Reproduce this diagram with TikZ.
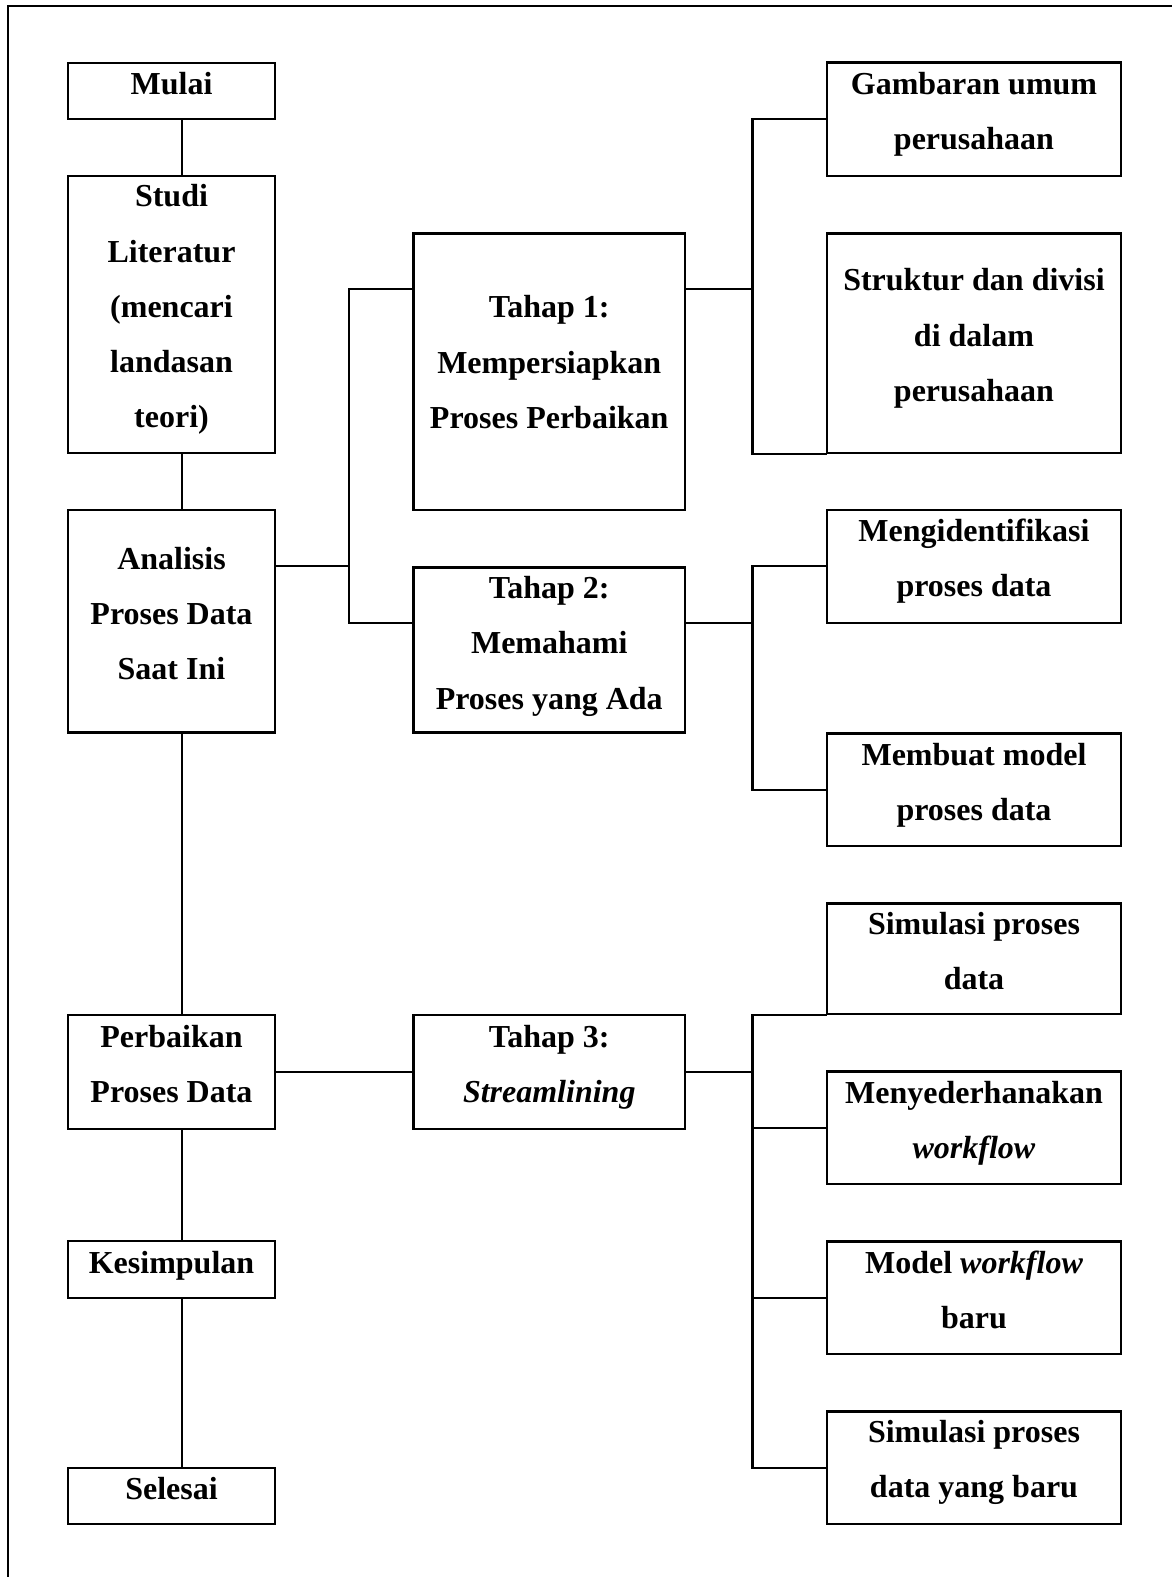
\documentclass[tikz,border=0pt]{standalone}
\usepackage{fontspec}
\setmainfont{Liberation Serif}
\usetikzlibrary{fit}
\newcommand\mkbox[7]{%
  \coordinate (#1-nw) at (#2,#3);
  \coordinate (#1-se) at (#4,#5);
  \node[boxst, fit=(#1-nw)(#1-se)] (#1) {};
  \node[txt] (#1-t) at ({(#2+#4)/2},#6) {\begin{tabular}[t]{@{}c@{}}#7\end{tabular}};
}
\begin{document}
\begin{tikzpicture}[x=1pt,y=-1pt,
  boxst/.style={draw, line width=2.2pt, inner sep=0pt},
  txt/.style={inner sep=0pt, anchor=base, font=\fontsize{32}{55.3}\selectfont\bfseries},
  conn/.style={line width=2.2pt, line cap=rect}]
\useasboundingbox (0,0) rectangle (1172,1577);
% outer frame
\coordinate (fa) at (8,1577);
\coordinate (fb) at (8,5.7);
\coordinate (fc) at (1172,5.7);
\draw[conn] (fa) -- (fb) -- (fc);
% left column
\mkbox{mulai}{68}{62.7}{275}{118.7}{94.5}{Mulai}
\mkbox{studi}{68}{175.7}{275}{453.3}{206.7}{Studi\\Literatur\\(mencari\\landasan\\teori)}
\mkbox{analisis}{68}{510}{275}{732.5}{569.3}{Analisis\\Proses Data\\Saat Ini}
\mkbox{perbaikan}{68}{1015}{275}{1129}{1047.2}{Perbaikan\\Proses Data}
\mkbox{kesimpulan}{68}{1241}{275}{1298}{1273.5}{Kesimpulan}
\mkbox{selesai}{68}{1468}{275}{1524}{1499.9}{Selesai}
% middle column
\mkbox{tahap1}{413.5}{233.4}{685}{510}{317.8}{Tahap 1:\\Mempersiapkan\\Proses Perbaikan}
\mkbox{tahap2}{413.5}{567.4}{685}{732.4}{598.5}{Tahap 2:\\Memahami\\Proses yang Ada}
\mkbox{tahap3}{413.5}{1015}{685}{1129}{1047.2}{Tahap 3:\\\textit{Streamlining}}
% right column
\mkbox{gambaran}{827}{62.4}{1121}{176}{94.5}{Gambaran umum\\perusahaan}
\mkbox{struktur}{827}{233.4}{1121}{452.7}{290.7}{Struktur dan divisi\\di dalam\\perusahaan}
\mkbox{mengid}{827}{510}{1121}{622.7}{541.2}{Mengidentifikasi\\proses data}
\mkbox{membuat}{827}{733.4}{1121}{846}{765.5}{Membuat model\\proses data}
\mkbox{simul1}{827}{903.4}{1121}{1014}{934.5}{Simulasi proses\\data}
\mkbox{menyed}{827}{1071.4}{1121}{1184}{1103.5}{Menyederhanakan\\\textit{workflow}}
\mkbox{modelwf}{827}{1241.4}{1121}{1354}{1273.5}{Model \textit{workflow}\\baru}
\mkbox{simul2}{827}{1411.4}{1121}{1524}{1442.5}{Simulasi proses\\data yang baru}
% junction columns and levels
\coordinate (lx) at (182,0);
\coordinate (jA) at (349,0);
\coordinate (jB) at (752.5,0);
\coordinate (Y1) at (0,288.7);
\coordinate (Y2) at (0,622.7);
% left spine
\draw[conn] (mulai.south -| lx) -- (studi.north -| lx);
\draw[conn] (studi.south -| lx) -- (analisis.north -| lx);
\draw[conn] (analisis.south -| lx) -- (perbaikan.north -| lx);
\draw[conn] (perbaikan.south -| lx) -- (kesimpulan.north -| lx);
\draw[conn] (kesimpulan.south -| lx) -- (selesai.north -| lx);
% analisis to tahap 1 and 2
\draw[conn] (analisis.east |- tahap2.north) -- (jA |- tahap2.north);
\draw[conn] (tahap1.west |- Y1) -- (jA |- Y1) -- (jA |- Y2) -- (tahap2.west |- Y2);
% tahap 1 branches
\draw[conn] (tahap1.east |- Y1) -- (jB |- Y1);
\draw[conn] (gambaran.west) -- (jB |- gambaran.west) -- (jB |- struktur.south) -- (struktur.south west);
% tahap 2 branches
\draw[conn] (tahap2.east |- Y2) -- (jB |- Y2);
\draw[conn] (mengid.west) -- (jB |- mengid.west) -- (jB |- membuat.west) -- (membuat.west);
% tahap 3
\draw[conn] (perbaikan.east) -- (tahap3.west);
\draw[conn] (tahap3.east) -- (jB |- tahap3.east);
\draw[conn] (simul1.south west) -- (jB |- simul1.south) -- (jB |- simul2.west) -- (simul2.west);
\draw[conn] (menyed.west) -- (jB |- menyed.west);
\draw[conn] (modelwf.west) -- (jB |- modelwf.west);
\end{tikzpicture}
\end{document}
